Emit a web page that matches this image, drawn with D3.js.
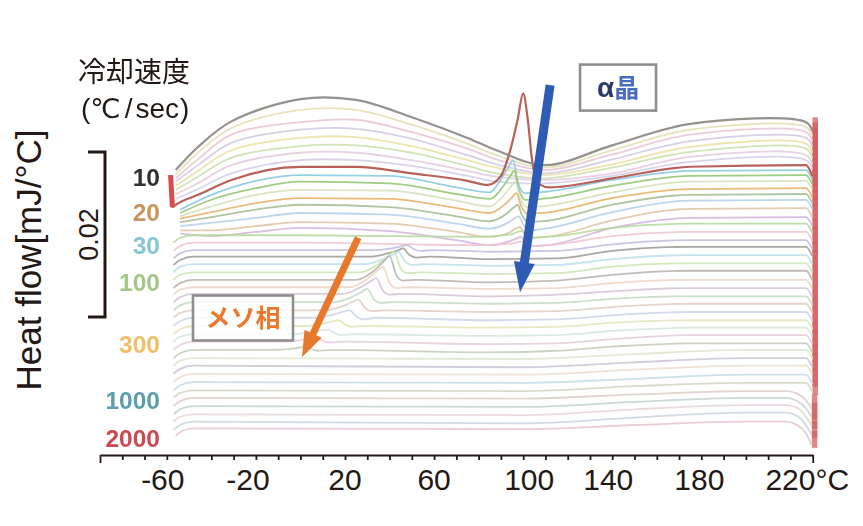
<!DOCTYPE html>
<html><head><meta charset="utf-8">
<script src="https://cdn.jsdelivr.net/npm/d3@7"></script>
<style>
html,body{margin:0;padding:0;background:#fff;}
svg{display:block;}
</style></head>
<body>
<svg id="chart" width="863" height="526"></svg>
<script>
// ---------------- DATA ----------------
// temperature (°C) and heat flow (units of 0.001 mJ/°C, stacked curves)
const xMinorTicks = [-90,-80,-70,-60,-50,-40,-30,-20,-10,0,10,20,30,40,50,60,70,80,90,100,110,120,130,140,150,160,170,180,190,200,210,220,230];
const xTickLabels = [-60,-20,20,60,100,140,180,220];

const rateLabels = ['10','20','30','100','300','1000','2000'];
const rateLabelCurve = [8, 9, 17, 22, 30, 37, 42];

// slow-cooled curves (top group), sampled at shared temperatures
const upperTemps = [-56,-46,-31,0,25,50,75,88,110,140,175,227,229.8];
const upperValues = [
  [34.9,37.7,40.8,43.5,43.4,41.3,38.8,37.3,35.5,37.9,40.5,40.7,39.6],
  [34.4,37.0,40.0,42.2,42.2,40.4,38.1,36.7,35.2,37.3,39.8,40.1,39.0],
  [33.9,36.2,39.2,40.7,41.0,39.5,37.5,36.2,34.9,36.8,39.2,39.5,38.4],
  [33.5,35.5,38.2,39.8,39.9,38.7,36.7,35.6,34.5,36.2,38.4,38.8,37.7],
  [33.0,34.8,37.3,38.8,38.9,37.8,36.1,35.2,34.3,35.6,37.7,38.1,37.0],
  [32.5,34.1,36.4,37.8,37.9,37.0,35.4,34.5,33.9,35.2,37.1,37.5,36.4],
  [32.0,33.3,35.5,37.0,37.0,36.1,34.8,34.1,33.7,34.5,36.5,36.7,35.6],
  [31.4,32.6,34.5,36.1,36.1,35.4,34.2,33.5,33.3,34.2,35.9,36.1,35.0]
];

// 10 °C/s curve with the alpha-crystal peak
const rate10Curve = [[-58.3,34.3],[-57.5,30.4],[-56,30.7],[-46,31.9],[-31,33.7],[0,35.3],[25,35.3],[50,34.5],[75,33.6],[84,33.1],[90,34.2],[94,37.1],[97.5,41.0],[100,44.2],[102,41.2],[104,36.1],[107,33.2],[112,32.8],[140,33.9],[175,35.3],[227,35.5],[229.8,34.2]];

// faster cooling rates (downwards)
const lowerCurves = [
  [[-54,30.1],[-40,31.9],[-20,33.6],[0,34.3],[40,34.2],[70,32.8],[85,32.2],[90.5,34.0],[93.5,35.3],[95.5,36.1],[97.5,33.6],[100.5,32.1],[107.5,32.2],[140,33.7],[175,34.8],[227,34.9],[229.8,33.8]],
  [[-54,29.7],[-40,31.3],[-20,32.7],[0,33.5],[40,33.3],[70,32.0],[85,31.4],[91,32.9],[94,34.1],[96,34.8],[98,32.6],[101,31.3],[108,31.4],[140,33.0],[175,34.2],[227,34.3],[229.8,33.2]],
  [[-54,29.3],[-40,30.5],[-20,31.9],[0,32.5],[40,32.4],[70,31.2],[85,30.5],[91.5,31.9],[94.5,32.9],[96.5,33.5],[98.5,31.6],[101.5,30.4],[108.5,30.5],[140,32.2],[175,33.5],[227,33.6],[229.8,32.5]],
  [[-54,29.0],[-40,29.8],[-20,30.9],[0,31.5],[40,31.4],[70,30.3],[85,29.7],[92,30.8],[95,31.6],[97,32.1],[99,30.6],[102,29.6],[109,29.7],[140,31.5],[175,32.6],[227,32.7],[229.8,31.6]],
  [[-54,28.6],[-40,29.2],[-20,30.1],[0,30.7],[40,30.4],[70,29.3],[85,28.7],[92.5,29.6],[95.5,30.3],[97.5,30.7],[99.5,29.4],[102.5,28.6],[109.5,28.7],[140,30.7],[175,31.9],[227,32.0],[229.8,30.9]],
  [[-54,28.1],[-40,28.5],[-20,29.1],[0,29.7],[40,29.5],[70,28.4],[85,27.8],[93,28.5],[96,29.0],[98,29.3],[100,28.3],[103,27.6],[110,27.8],[140,29.8],[175,31.2],[227,31.3],[229.8,30.2]],
  [[-54,27.6],[-40,27.6],[-20,28.1],[0,28.6],[40,28.4],[70,27.4],[85,26.8],[93.5,27.3],[96.5,27.8],[98.5,28.0],[100.5,27.2],[103.5,26.7],[110.5,26.8],[140,28.8],[175,30.2],[227,30.3],[229.8,29.2]],
  [[-54,27.2],[-40,26.9],[-20,27.4],[0,27.9],[40,27.5],[70,26.4],[85,25.8],[94,26.3],[97,26.6],[99,26.8],[101,26.2],[104,25.7],[111,25.8],[140,27.9],[175,29.1],[227,29.2],[229.8,28.1]],
  [[-57,26.1],[-54,26.7],[-48,27.0],[0,27.0],[80,26.8],[94.5,27.1],[97.5,27.4],[99.5,27.5],[101.5,27.0],[104.5,26.7],[115,26.9],[140,27.9],[175,28.4],[227,28.4],[229.8,27.3]],
  [[-57,25.1],[-54,25.7],[-48,26.1],[0,26.1],[80,25.8],[95,26.0],[98,26.2],[100,26.3],[102,25.9],[105,25.7],[115,25.9],[140,26.9],[175,27.4],[227,27.4],[229.8,26.3]],
  [[-57,24.2],[-54,24.8],[-48,25.2],[0,25.2],[33,25.2],[41,25.4],[46,25.7],[48,25.8],[51,25.3],[54,25.1],[60,25.2],[85,25.0],[115,25.1],[140,25.9],[175,26.4],[227,26.4],[229.8,25.3]],
  [[-57,23.4],[-54,24.0],[-48,24.4],[0,24.4],[31,24.4],[39,24.8],[44,25.2],[46,25.4],[49,24.6],[52,24.3],[58,24.4],[85,24.1],[115,24.2],[140,25.1],[175,25.6],[227,25.6],[229.8,24.5]],
  [[-57,22.5],[-54,23.2],[-48,23.5],[0,23.5],[29,23.5],[37,24.1],[42,24.7],[44,25.0],[47,23.8],[50,23.4],[56,23.5],[85,23.3],[115,23.4],[140,24.1],[175,24.6],[227,24.6],[229.8,23.5]],
  [[-57,21.6],[-54,22.2],[-48,22.5],[0,22.5],[27,22.5],[35,23.5],[40,24.6],[42,25.0],[45,23.0],[48,22.4],[54,22.5],[85,22.3],[115,22.4],[140,23.2],[175,23.6],[227,23.6],[229.8,22.5]],
  [[-57,20.6],[-54,21.2],[-48,21.6],[0,21.6],[25,21.6],[33,22.7],[38,24.0],[40,24.5],[43,22.2],[46,21.5],[52,21.6],[85,21.3],[115,21.5],[140,22.2],[175,22.7],[227,22.7],[229.8,21.6]],
  [[-57,19.8],[-54,20.4],[-48,20.7],[0,20.7],[22,20.7],[30,21.7],[35,22.8],[37,23.2],[40,21.2],[43,20.6],[49,20.7],[85,20.5],[115,20.6],[140,21.2],[175,21.6],[227,21.6],[229.8,20.5]],
  [[-57,18.9],[-54,19.5],[-48,19.9],[0,19.9],[19,19.9],[27,20.7],[32,21.5],[34,21.8],[37,20.3],[40,19.8],[46,19.9],[85,19.6],[115,19.8],[140,20.2],[175,20.6],[227,20.6],[229.8,19.5]],
  [[-57,17.9],[-54,18.5],[-48,18.9],[0,18.9],[15,18.9],[23,19.5],[28,20.2],[30,20.5],[33,19.2],[36,18.8],[42,18.9],[85,18.7],[115,18.8],[140,19.3],[175,19.6],[227,19.6],[229.8,18.5]],
  [[-57,17.0],[-54,17.6],[-48,17.9],[0,17.9],[11,17.9],[19,18.4],[24,19.0],[26,19.2],[29,18.2],[32,17.8],[38,17.9],[85,17.7],[115,17.8],[140,18.3],[175,18.7],[227,18.7],[229.8,17.6]],
  [[-57,16.0],[-54,16.6],[-48,17.0],[0,17.0],[7,17.0],[15,17.4],[20,17.8],[22,17.9],[25,17.2],[28,16.8],[34,17.0],[85,16.7],[115,16.8],[140,17.3],[175,17.7],[227,17.7],[229.8,16.6]],
  [[-57,15.0],[-54,15.6],[-48,16.0],[2,16.0],[10,16.3],[15,16.6],[17,16.7],[20,16.2],[23,15.9],[29,16.0],[85,15.8],[115,15.9],[140,16.4],[175,16.7],[227,16.7],[229.8,15.6]],
  [[-57,14.1],[-54,14.7],[-48,15.0],[-3,15.0],[5,15.3],[10,15.5],[12,15.6],[15,15.2],[18,14.9],[24,15.0],[85,14.8],[115,14.9],[140,15.4],[175,15.8],[227,15.8],[229.8,14.7]],
  [[-57,13.1],[-54,13.7],[-48,14.1],[-8,14.1],[0,14.3],[5,14.5],[7,14.6],[10,14.2],[13,14.0],[19,14.1],[85,13.8],[115,13.9],[140,14.4],[175,14.9],[227,14.9],[229.8,13.8]],
  [[-57,12.1],[-54,12.7],[-48,13.1],[-13,13.1],[-5,13.2],[0,13.4],[2,13.5],[5,13.2],[8,13.0],[14,13.1],[85,12.8],[115,13.0],[140,13.5],[175,13.9],[227,13.9],[229.8,12.8]],
  [[-57,11.2],[-54,11.8],[-48,12.1],[100,12.0],[150,12.6],[200,13.1],[227,13.1],[229.8,12.0]],
  [[-57,10.2],[-54,10.8],[-48,11.2],[100,11.0],[150,11.6],[200,12.1],[227,12.1],[229.8,11.0]],
  [[-57,9.2],[-54,9.8],[-48,10.2],[100,10.1],[150,10.7],[200,11.2],[227,11.2],[229.8,10.1]],
  [[-57,8.2],[-54,8.8],[-48,9.2],[100,9.1],[150,9.6],[200,10.1],[227,10.1],[229.8,9.0]],
  [[-57,7.3],[-54,7.9],[-48,8.2],[100,8.1],[150,8.7],[200,9.1],[227,9.1],[229.8,8.0]],
  [[-57,6.3],[-54,6.9],[-48,7.3],[100,7.2],[150,7.7],[200,8.1],[218,8.1],[223,7.8],[227,7.0],[229.5,6.0]],
  [[-57,5.3],[-54,5.9],[-48,6.3],[100,6.2],[150,6.8],[200,7.3],[218,7.3],[223,6.9],[227,6.0],[229.5,5.0]],
  [[-57,4.4],[-54,5.0],[-48,5.3],[100,5.2],[150,5.9],[200,6.4],[218,6.4],[223,6.1],[227,5.0],[229.5,3.9]],
  [[-57,3.4],[-54,4.0],[-48,4.4],[100,4.2],[150,4.9],[200,5.5],[218,5.5],[223,5.1],[227,4.0],[229.5,2.8]],
  [[-56,2.7],[-53,3.3],[-48,3.6],[100,3.5],[150,4.0],[200,4.4],[218,4.4],[223,4.0],[227,3.0],[229.5,1.6]]
];

const curveColors = [
  '#8f8b87','#e4e0b4','#e8c6d6','#d4cae6','#ebe2a4','#cde0ae','#e6cce0','#d6cee9',
  '#b35a50',
  '#8ccbe0','#96c676','#d6e2bc','#e8b46a','#a8bf96','#b6d2ec','#e0c6a6','#d6b6e0',
  '#b6da9e','#efc6d0','#c6bee0','#a29e9a','#bee2ec','#cee6b6','#b9b5b1','#efd6c6',
  '#d6c6d6','#c6dac6','#e2cec6','#ced6e8','#e6e6be','#d6e8de','#e8cede','#c6cebe',
  '#dee8ce','#cec6d8','#efdece','#c6dee8','#d6d6c6','#dececa','#c6d6ce','#e8d6d6',
  '#ced6e0','#e8c6d0'
];

// scale bar (0.02 mJ/°C) and annotations, in data units
const scaleBarBase = 17.1, scaleBarSpan = 20, scaleBarLabel = '0.02';
const alphaArrow = [[112.1,45.2],[98.6,20.1]];
const mesoArrow  = [[25.9,26.7],[0.7,12.2]];
const alphaBoxAt = [142.6,44.9];
const mesoBoxAt  = [-25.8,16.97];

// ---------------- CHART ----------------
const svg = d3.select('#chart');
const ink = '#231815';
const latin = "'Liberation Sans', Arial, Helvetica, sans-serif";
const cjk = "'Noto Sans CJK JP', 'Noto Sans', sans-serif";

const x = d3.scaleLinear().domain([-90,230]).range([100,812.7]);
const y = d3.scaleLinear().domain([0,55]).range([458,458-55*8.25]);

const defs = svg.append('defs');
defs.append('filter').attr('id','soft').attr('x','-5%').attr('y','-5%').attr('width','110%').attr('height','110%')
  .append('feGaussianBlur').attr('stdDeviation',0.55);
defs.append('filter').attr('id','soft2').attr('x','-10%').attr('y','-10%').attr('width','120%').attr('height','120%')
  .append('feGaussianBlur').attr('stdDeviation',0.7);

const curves = upperValues.map(r => r.map((v,i)=>[upperTemps[i], v]));
curves.push(rate10Curve);
lowerCurves.forEach(c => curves.push(c));

const lineMono = d3.line().x(d=>x(d[0])).y(d=>y(d[1])).curve(d3.curveMonotoneX);
const lineSmooth = d3.line().x(d=>x(d[0])).y(d=>y(d[1])).curve(d3.curveCatmullRom.alpha(0.5));

const order = [];
for (let i=1;i<=7;i++) order.push(i);
for (let i=9;i<curves.length;i++) order.push(i);
order.push(8); order.push(0);

const cg = svg.append('g').attr('filter','url(#soft)');
// melting drop at the right end
cg.selectAll('line.melt').data(curves).join('line').attr('class','melt')
  .attr('x1', d=>x(d[d.length-1][0])+3).attr('x2', d=>x(d[d.length-1][0])+3)
  .attr('y1', d=>y(d[d.length-1][1])-14).attr('y2', d=>y(d[d.length-1][1])+3)
  .attr('stroke','#d45c5c').attr('stroke-width',5.5).attr('opacity',0.72);

cg.selectAll('path.curve').data(order).join('path').attr('class','curve')
  .attr('d', i=> i<8 ? lineSmooth(curves[i]) : lineMono(curves[i]))
  .attr('fill','none')
  .attr('stroke', i=>curveColors[i])
  .attr('stroke-width', i=> i===0||i===8 ? 2.2 : 1.8)
  .attr('opacity', i=> i===0||i===8 ? 0.95 : 0.9);

// red start mark on the 10 °C/s curve
cg.append('line')
  .attr('x1', x(rate10Curve[0][0])).attr('x2', x(rate10Curve[1][0]))
  .attr('y1', y(rate10Curve[0][1])).attr('y2', y(rate10Curve[1][1]))
  .attr('stroke','#e04848').attr('stroke-width',5);

// x axis
const axisG = svg.append('g').attr('transform','translate(0,455)');
axisG.call(d3.axisBottom(x).tickValues(xMinorTicks).tickSize(5).tickSizeOuter(0).tickFormat(''));
axisG.select('.domain').attr('stroke',ink).attr('stroke-width',2.2);
axisG.selectAll('.tick line').attr('stroke',ink).attr('stroke-width',1.8)
  .attr('y2', d => (d===-90||d===230) ? 8 : 5);

const nudge = {'-60':-4,'-20':-8,'100':6,'140':-4,'180':-2};
svg.selectAll('text.xl').data(xTickLabels).join('text').attr('class','xl')
  .attr('x', d=>x(d)+(nudge[d]||0)).attr('y',490)
  .attr('text-anchor','middle').attr('font-family',latin).attr('font-size',30).attr('fill',ink)
  .text(d=>String(d));
{
  const t220 = svg.selectAll('text.xl').filter(d=>d===220).node();
  const w = t220.getComputedTextLength();
  svg.append('text').attr('x', x(220)+w/2).attr('y',490)
    .attr('font-family',latin).attr('font-size',30).attr('fill',ink).text('°C');
}

// y label
svg.append('text').attr('transform','translate(41,260) rotate(-90)')
  .attr('text-anchor','middle').attr('font-family',latin).attr('font-size',35).attr('fill',ink)
  .text('Heat flow[mJ/°C]');

// scale bar
const sbTop = y(scaleBarBase+scaleBarSpan), sbBot = y(scaleBarBase);
svg.append('path')
  .attr('d', `M88,${sbTop}H105V${sbBot}H88`)
  .attr('fill','none').attr('stroke',ink).attr('stroke-width',3);
svg.append('text').attr('transform',`translate(98,${(sbTop+sbBot)/2}) rotate(-90)`)
  .attr('text-anchor','middle').attr('font-family',latin).attr('font-size',27).attr('fill',ink)
  .text(scaleBarLabel);

// title
svg.append('text').attr('x',78).attr('y',82).attr('font-family',cjk).attr('font-size',28).attr('fill',ink).text('冷却速度');
{
  const t = svg.append('text').attr('x',81).attr('y',118).attr('fill',ink).attr('font-size',28).attr('font-family',latin);
  t.append('tspan').text('(');
  t.append('tspan').attr('font-family',"'DejaVu Sans', sans-serif").attr('font-size',27).text('℃');
  t.append('tspan').attr('dx',4).text('/');
  t.append('tspan').attr('dx',3).text('sec');
  t.append('tspan').attr('dx',1).text(')');
}

// rate labels
const rateColors = ['#333333','#c8955a','#86c6d6','#a6c686','#f0c066','#5c9eae','#cc4850'];
svg.append('g').attr('filter','url(#soft2)').selectAll('text').data(rateLabels).join('text')
  .attr('x',160)
  .attr('y',(d,i)=>y(curves[rateLabelCurve[i]][0][1]) + 2.5 + 8.7)
  .attr('text-anchor','end').attr('font-family',latin).attr('font-weight','bold').attr('font-size',24.5)
  .attr('fill',(d,i)=>rateColors[i])
  .text(d=>d);

// arrows
function arrow(p0,p1,shaftW,headL,headW,color){
  const x0=x(p0[0]), y0=y(p0[1]), x1=x(p1[0]), y1=y(p1[1]);
  const dx=x1-x0, dy=y1-y0, L=Math.hypot(dx,dy), ux=dx/L, uy=dy/L, nx=-uy, ny=ux;
  const bx=x1-ux*headL, by=y1-uy*headL;
  const pts=[[x0+nx*shaftW/2,y0+ny*shaftW/2],[bx+nx*shaftW/2,by+ny*shaftW/2],[bx+nx*headW/2,by+ny*headW/2],[x1,y1],
             [bx-nx*headW/2,by-ny*headW/2],[bx-nx*shaftW/2,by-ny*shaftW/2],[x0-nx*shaftW/2,y0-ny*shaftW/2]];
  svg.append('path').attr('d','M'+pts.map(p=>p.join(',')).join('L')+'Z').attr('fill',color).attr('filter','url(#soft)');
}
arrow(alphaArrow[0],alphaArrow[1],9,30,21,'#2d5cb4');
arrow(mesoArrow[0],mesoArrow[1],7,26,19,'#e8792c');

// annotation boxes
function box(at,w,h){
  const cx=x(at[0]), cy=y(at[1]);
  svg.append('rect').attr('x',cx-w/2).attr('y',cy-h/2).attr('width',w).attr('height',h)
    .attr('fill','#fff').attr('fill-opacity',0.85).attr('stroke','#8e8e8e').attr('stroke-width',2.6).attr('filter','url(#soft)');
  return [cx,cy];
}
{
  const [cx,cy] = box(alphaBoxAt,76,46);
  const t = svg.append('text').attr('x',cx).attr('y',cy+9).attr('text-anchor','middle').attr('filter','url(#soft2)');
  t.append('tspan').attr('font-family',latin).attr('font-weight','bold').attr('font-size',28).attr('fill','#2c3a6a').text('α');
  t.append('tspan').attr('font-family',cjk).attr('font-weight','bold').attr('font-size',25).attr('fill','#4a6cc0').text('晶');
}
{
  const [cx,cy] = box(mesoBoxAt,100,45);
  svg.append('text').attr('x',cx).attr('y',cy+9).attr('text-anchor','middle').attr('filter','url(#soft2)')
    .attr('font-family',cjk).attr('font-weight','bold').attr('font-size',25).attr('fill','#e8792e').text('メソ相');
}
</script>
</body></html>
